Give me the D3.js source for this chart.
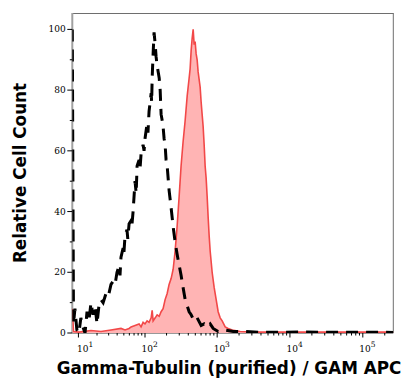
<!DOCTYPE html>
<html>
<head>
<meta charset="utf-8">
<script src="https://cdn.jsdelivr.net/npm/d3@7"></script>
<style>
  body { margin: 0; background: #fff; }
  svg { display: block; }
</style>
</head>
<body>
<div id="renderDiv"></div>
<script>
// fluorescence intensity (APC) vs relative count
const stainedHist = [
  [7.8, 8], [8.2, 0.5], [10.2, 0.3], [16.1, 0.8], [23, 0.5], [32.5, 1], [45.5, 1.5], [52, 1],
  [59.5, 1.5], [63.5, 2], [72.3, 2.5], [82.5, 3], [88, 2], [94, 3.5], [100, 3], [107, 4],
  [114, 3.5], [122, 5], [126, 7.5], [130, 4], [139, 5], [148, 6], [158, 5.5], [168, 7],
  [179, 8], [191, 11], [204, 13], [217, 16], [232, 18], [247, 21], [263, 27], [280, 35],
  [299, 45], [318, 55], [339, 63], [362, 70], [386, 78], [411, 84], [424, 87], [438, 93],
  [452, 97], [467, 100], [482, 95], [497, 96], [513, 92], [530, 90], [547, 86], [583, 81],
  [602, 76], [621, 72], [641, 68], [662, 62], [683, 55], [705, 51], [728, 45], [752, 38],
  [776, 32], [801, 27], [853, 20], [909, 15], [969, 11], [1032, 7], [1100, 5], [1172, 4],
  [1289, 2], [1417, 1.5], [1609, 1], [2073, 0.5], [3905, 0.3], [262144, 0.3]
];
const controlHist = [
  [7.8, 100], [8.2, 3], [8.7, 8], [9.4, 1], [10.2, 0], [11.0, 5], [11.9, 2], [12.9, 0],
  [13.9, 7], [14.9, 4], [16.1, 10], [17.3, 6], [18.6, 9], [20.0, 3], [21.4, 9], [23.0, 11],
  [24.8, 10], [26.5, 12], [28.3, 14], [30.3, 13], [32.5, 16], [34.8, 17], [37.3, 16],
  [39.8, 20], [42.5, 22], [44, 19], [45.5, 25], [48.8, 28], [50, 26], [52, 32], [55.5, 34],
  [57, 31], [59.5, 36], [63.5, 37], [65, 35], [67.8, 40], [72.3, 50], [75, 46], [77.3, 55],
  [82.5, 57], [85, 54], [88, 59], [94, 62], [97, 60], [100, 64], [107, 69], [110, 66],
  [114, 73], [122, 79], [124, 76], [126, 84], [130, 92], [134, 99], [139, 95], [143, 91],
  [148, 88], [153, 86], [158, 84], [163, 80], [168, 72], [174, 70], [179, 68], [185, 64],
  [191, 62], [197, 57], [204, 55], [217, 47], [232, 41], [247, 35], [263, 30], [280, 26],
  [290, 24], [318, 19], [339, 15], [362, 11], [386, 9], [411, 7], [438, 6], [482, 4],
  [530, 5], [602, 2.5], [662, 3], [728, 2], [801, 3], [881, 1.5], [1032, 0.5], [1289, 1],
  [1660, 0.5], [2428, 0.5], [3905, 0.2], [13850, 0.3], [262144, 0.2]
];
const xDecades = [1, 2, 3, 4, 5];
const yTicks = [0, 20, 40, 60, 80, 100];
const yMinor = [10, 30, 50, 70, 90];

const W = 414, H = 378;
const plot = { left: 72.3, right: 393.3, top: 13, bottom: 333 };

const svg = d3.select("#renderDiv").append("svg")
  .attr("width", W).attr("height", H);

// logicle-ish axis, symlog is close enough
const x = d3.scaleSymlog().constant(2.5).domain([7.8, 262144]).range([plot.left, plot.right]);
const y = d3.scaleLinear().domain([0, 105.4]).range([plot.bottom, plot.top]);

svg.append("clipPath").attr("id", "clip")
  .append("rect")
  .attr("x", plot.left).attr("y", plot.top)
  .attr("width", plot.right - plot.left).attr("height", plot.bottom - plot.top);

// frame
svg.append("line")
  .attr("x1", plot.left).attr("x2", plot.right).attr("y1", plot.top + 0.5).attr("y2", plot.top + 0.5)
  .attr("stroke", "#6e6e6e").attr("stroke-width", 1);
svg.append("line")
  .attr("x1", plot.right).attr("x2", plot.right).attr("y1", plot.top).attr("y2", plot.bottom)
  .attr("stroke", "#6e6e6e").attr("stroke-width", 1);
svg.append("line")
  .attr("x1", plot.left).attr("x2", plot.left).attr("y1", plot.top).attr("y2", plot.bottom)
  .attr("stroke", "#a0a0a0").attr("stroke-width", 2);

// y axis ticks + labels
const yg = svg.append("g");
yg.selectAll(".ymaj").data(yTicks).enter().append("line")
  .attr("x1", plot.left - 5).attr("x2", plot.left)
  .attr("y1", d => y(d)).attr("y2", d => y(d))
  .attr("stroke", "#000").attr("stroke-width", 1);
yg.selectAll(".ymin").data(yMinor).enter().append("line")
  .attr("x1", plot.left - 2.5).attr("x2", plot.left)
  .attr("y1", d => y(d)).attr("y2", d => y(d))
  .attr("stroke", "#000").attr("stroke-width", 1);
yg.selectAll("text").data(yTicks).enter().append("text")
  .attr("x", plot.left - 6.5).attr("y", d => y(d) + 3)
  .attr("text-anchor", "end")
  .attr("font-family", "DejaVu Serif").attr("font-size", "9px")
  .attr("fill", "#000")
  .text(d => d);

// x axis
svg.append("line")
  .attr("x1", plot.left).attr("x2", plot.right).attr("y1", plot.bottom).attr("y2", plot.bottom)
  .attr("stroke", "#333").attr("stroke-width", 1.2);
let minorVals = [];
for (let k = 1; k <= 5; k++) {
  for (let m = 2; m <= 9; m++) {
    let v = m * Math.pow(10, k);
    if (v < 262144) minorVals.push(v);
  }
}
const xg = svg.append("g");
xg.selectAll(".xmin").data(minorVals).enter().append("line")
  .attr("x1", d => x(d)).attr("x2", d => x(d))
  .attr("y1", plot.bottom).attr("y2", plot.bottom + 2.5)
  .attr("stroke", "#000").attr("stroke-width", 1);
xg.selectAll(".xmaj").data(xDecades).enter().append("line")
  .attr("x1", d => x(Math.pow(10, d))).attr("x2", d => x(Math.pow(10, d)))
  .attr("y1", plot.bottom).attr("y2", plot.bottom + 4.5)
  .attr("stroke", "#000").attr("stroke-width", 1);
let xl = xg.selectAll(".xlab").data(xDecades).enter().append("text")
  .attr("x", d => x(Math.pow(10, d)) - 3.5 + (d === 1 ? 2 : 0)).attr("y", 352)
  .attr("font-family", "DejaVu Serif").attr("font-size", "9px").attr("fill", "#000");
xl.append("tspan").text("10");
xl.append("tspan").attr("dy", -5).attr("font-size", "7.5px").text(d => d);

// histograms
const area = d3.area().x(d => x(d[0])).y0(y(0)).y1(d => y(d[1]));
const line = d3.line().x(d => x(d[0])).y(d => y(d[1]));
const data_g = svg.append("g").attr("clip-path", "url(#clip)");
data_g.append("path").datum(stainedHist)
  .attr("d", area).attr("fill", "#ffb4b4").attr("stroke", "none");
data_g.append("path").datum(stainedHist)
  .attr("d", line).attr("fill", "none").attr("stroke", "#f24848").attr("stroke-width", 1.6);
data_g.append("path").datum(controlHist)
  .attr("d", line).attr("fill", "none").attr("stroke", "#000")
  .attr("stroke-width", 3).attr("stroke-dasharray", "12,8");

// titles
svg.append("text")
  .attr("transform", "translate(26," + ((plot.top + plot.bottom) / 2) + ") rotate(-90)")
  .attr("text-anchor", "middle")
  .attr("font-family", "DejaVu Sans").attr("font-weight", "bold").attr("font-size", "16.8px")
  .text("Relative Cell Count");
svg.append("text")
  .attr("x", 229).attr("y", 374)
  .attr("text-anchor", "middle")
  .attr("font-family", "DejaVu Sans").attr("font-weight", "bold").attr("font-size", "16.8px")
  .text("Gamma-Tubulin (purified) / GAM APC");
</script>
</body>
</html>
